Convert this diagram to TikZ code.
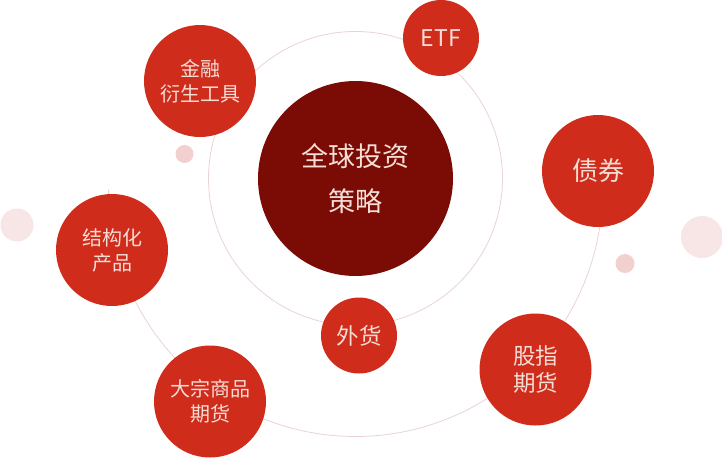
\documentclass[tikz,border=0pt]{standalone}
\usepackage{fontspec}
\setmainfont{Noto Sans CJK SC}
\usepackage{xcolor}
\usepackage{tikz}
\definecolor{assetred}{HTML}{D02C1B}
\definecolor{coredark}{HTML}{7A0C05}
\definecolor{labelpink}{HTML}{F4DED6}
\definecolor{orbitpink}{HTML}{EAD3D3}
\definecolor{dotpink}{HTML}{F3D0D0}
\definecolor{dotpale}{HTML}{F8E5E5}

\begin{document}
\begin{tikzpicture}[
  x=1pt, y=-1pt,
  hub/.style={circle, fill=coredark, minimum size=195pt, inner sep=0pt,
              text=labelpink, align=center, font=\fontsize{27}{45}\selectfont},
  asset/.style={circle, fill=assetred, minimum size=112pt, inner sep=0pt,
                text=labelpink, align=center, font=\fontsize{20}{25}\selectfont},
  minor/.style={asset, minimum size=76pt, font=\fontsize{22.5}{27}\selectfont},
  orbit/.style={draw=orbitpink, line width=0.8pt},
  dot/.style={circle, inner sep=0pt}
]
\useasboundingbox (0,0) rectangle (722,458);
\coordinate (core) at (355.5,178.5);
\coordinate (outer) at (355.6,189.5);
% orbits behind the circles
\draw[orbit] (core) circle[radius=147];
\draw[orbit] (outer) ++(180:247) arc[start angle=180, end angle=-4, radius=247];
% decoration dots
\node[dot, fill=dotpink, minimum size=18pt] (dota) at (184.5,154) {};
\node[dot, fill=dotpale, minimum size=33pt] (dotb) at (17,225) {};
\node[dot, fill=dotpale, minimum size=42pt] (dotc) at (702,237) {};
\node[dot, fill=dotpink, minimum size=19pt] (dotd) at (625,263.5) {};
% centre and assets
\node[hub] (strategy) at (core) {全球投资\\策略};
\node[asset] (deriv) at (200,81) {金融\\衍生工具};
\node[minor, font=\fontsize{23}{27}\selectfont] (etf) at (441,38) {ETF};
\node[asset, font=\fontsize{26}{30}\selectfont] (bond) at (598,171) {债券};
\node[asset] (struct) at (112,250) {结构化\\产品};
\node[minor] (fx) at (359,335.5) {外货};
\node[asset] (commod) at (210,401.5) {大宗商品\\期货};
\node[asset, font=\fontsize{22.5}{27}\selectfont] (index) at (535.5,369.5) {股指\\期货};
\end{tikzpicture}
\end{document}
